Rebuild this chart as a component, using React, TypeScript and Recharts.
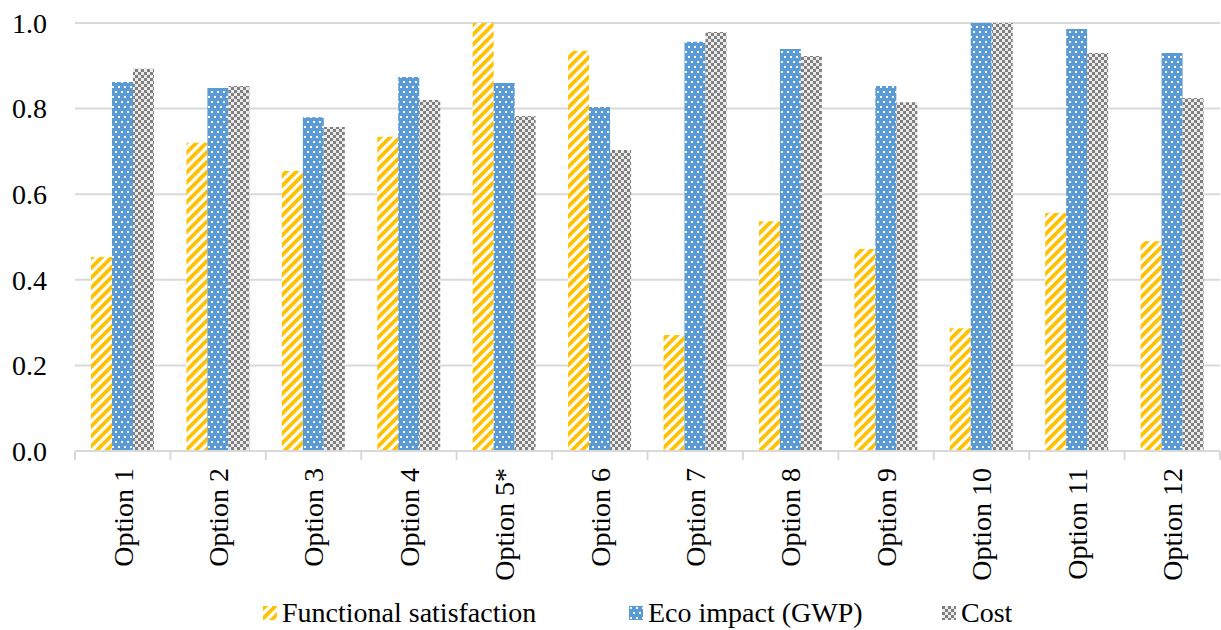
import React from 'react';
import { BarChart, Bar, XAxis, YAxis, CartesianGrid, Legend } from 'recharts';

const categories = [
  'Option 1', 'Option 2', 'Option 3', 'Option 4', 'Option 5*', 'Option 6',
  'Option 7', 'Option 8', 'Option 9', 'Option 10', 'Option 11', 'Option 12',
];
const functionalSatisfaction = [0.453, 0.72, 0.654, 0.734, 1.0, 0.935, 0.271, 0.537, 0.472, 0.287, 0.556, 0.49];
const ecoImpact = [0.862, 0.848, 0.78, 0.874, 0.86, 0.804, 0.956, 0.939, 0.853, 1.0, 0.986, 0.93];
const cost = [0.893, 0.853, 0.757, 0.82, 0.783, 0.703, 0.979, 0.923, 0.815, 1.0, 0.93, 0.825];
const yTicks = [0, 0.2, 0.4, 0.6, 0.8, 1.0];

const seriesNames = ['Functional satisfaction', 'Eco impact (GWP)', 'Cost'];
const seriesKeys = ['functional', 'eco', 'cost'];
const seriesPatterns = ['patStripe', 'patDots', 'patChecker'];

const data = categories.map((name, i) => ({
  name,
  functional: functionalSatisfaction[i],
  eco: ecoImpact[i],
  cost: cost[i],
}));

const FONT = "'Liberation Serif', 'Times New Roman', 'DejaVu Serif', 'Noto Serif', 'FreeSerif', 'Nimbus Roman', Tinos, Times, serif";
const GRID = '#d9d9d9';

const CategoryTick = (props: any) => {
  const { x, y, payload, index } = props;
  const half = payload.offset || 0;
  const last = index === categories.length - 1;
  return (
    <g>
      <line x1={x - half} y1={y} x2={x - half} y2={y + 9} stroke={GRID} strokeWidth={2} />
      {last && <line x1={x + half} y1={y} x2={x + half} y2={y + 9} stroke={GRID} strokeWidth={2} />}
      <text
        x={x}
        y={y + 17}
        transform={`rotate(-90, ${x}, ${y + 17})`}
        textAnchor="end"
        dy="0.35em"
        style={{ fontFamily: FONT, fontSize: 28 }}
        fill="#000"
      >
        {payload.value}
      </text>
    </g>
  );
};

const ValueTick = (props: any) => {
  const { x, y, payload } = props;
  return (
    <text
      x={x - 28}
      y={y}
      textAnchor="end"
      dy="0.35em"
      style={{ fontFamily: FONT, fontSize: 28 }}
      fill="#000"
    >
      {Number(payload.value).toFixed(1)}
    </text>
  );
};

// width of each legend slot (icon + label + spacing)
const legendSlots = [366, 313, 120];

const LegendContent = () => (
  <div style={{ display: 'flex', alignItems: 'center', fontFamily: FONT, fontSize: 28, color: '#000', lineHeight: '34px' }}>
    {seriesNames.map((n, i) => (
      <div key={n} style={{ display: 'flex', alignItems: 'center', width: legendSlots[i], flex: 'none' }}>
        <svg width={14} height={14} style={{ marginRight: 5, flex: 'none' }}>
          <rect width={14} height={14} fill={`url(#${seriesPatterns[i]})`} />
        </svg>
        <span style={{ whiteSpace: 'nowrap' }}>{n}</span>
      </div>
    ))}
  </div>
);

export default function App() {
  return (
    <div style={{ position: 'absolute', left: 0, top: 0, width: 1221, height: 630, background: '#fff', fontFamily: FONT }}>
      <BarChart
        width={1221}
        height={630}
        data={data}
        margin={{ top: 23, right: 1, left: 0, bottom: 0 }}
        barCategoryGap={16}
        barGap={0}
        style={{ fontFamily: FONT }}
      >
        <defs>
          <pattern id="patStripe" patternUnits="userSpaceOnUse" width={7} height={7} patternTransform="rotate(45)">
            <rect width={7} height={7} fill="#ffffff" />
            <rect width={3.8} height={7} fill="#FFC000" />
          </pattern>
          <pattern id="patDots" patternUnits="userSpaceOnUse" width={6} height={10}>
            <rect width={6} height={10} fill="#5B9BD5" />
            <rect x={1} y={1} width={2} height={2} fill="#ffffff" />
            <rect x={4} y={6} width={2} height={2} fill="#ffffff" />
          </pattern>
          <pattern id="patChecker" patternUnits="userSpaceOnUse" width={6} height={6}>
            <rect width={6} height={6} fill="#ebebeb" />
            <rect x={0} y={0} width={3} height={3} fill="#7f7f7f" />
            <rect x={3} y={3} width={3} height={3} fill="#7f7f7f" />
          </pattern>
        </defs>
        <CartesianGrid vertical={false} stroke={GRID} strokeWidth={2} />
        <XAxis
          dataKey="name"
          height={179}
          interval={0}
          tickLine={false}
          tickSize={0}
          tickMargin={0}
          axisLine={{ stroke: GRID, strokeWidth: 2 }}
          tick={<CategoryTick />}
        />
        <YAxis
          width={75}
          domain={[0, 1]}
          ticks={yTicks}
          interval={0}
          axisLine={false}
          tickLine={false}
          tickSize={0}
          tickMargin={0}
          tick={<ValueTick />}
        />
        <Legend
          layout="horizontal"
          verticalAlign="middle"
          align="center"
          content={<LegendContent />}
          wrapperStyle={{ top: 596, left: 263, width: 900, height: 34 }}
        />
        {seriesKeys.map((k, i) => (
          <Bar key={k} dataKey={k} name={seriesNames[i]} fill={`url(#${seriesPatterns[i]})`} isAnimationActive={false} />
        ))}
      </BarChart>
    </div>
  );
}
